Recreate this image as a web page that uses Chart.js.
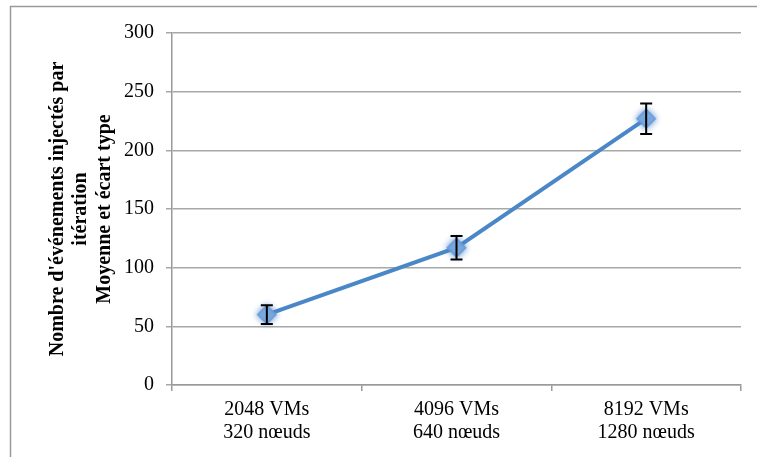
<!DOCTYPE html>
<html><head><meta charset="utf-8">
<script src="https://cdn.jsdelivr.net/npm/chart.js@4"></script>
<style>html,body{margin:0;padding:0;background:#fff;}#wrap{width:757px;height:457px;position:relative;}</style>
</head><body><div id="wrap"><canvas id="c" width="757" height="457"></canvas></div>
<script>
const categories = [["2048 VMs","320 nœuds"],["4096 VMs","640 nœuds"],["8192 VMs","1280 nœuds"]];
const means = [60, 117, 227];
const stdDevs = [8, 10, 13];
const yTicks = [0, 50, 100, 150, 200, 250, 300];
const yTitle = ["Nombre d'événements injectés par", "itération", "Moyenne et écart type"];

const serif = "'Liberation Serif','Times New Roman',serif";

const frame = {
  id: 'frame',
  beforeDraw(chart) {
    const ctx = chart.ctx;
    ctx.save();
    ctx.strokeStyle = '#9a9a9a';
    ctx.lineWidth = 1.5;
    ctx.strokeRect(10.5, 6.5, 900, 600);
    ctx.restore();
  }
};

const errorBars = {
  id: 'errorBars',
  afterDatasetsDraw(chart) {
    const ctx = chart.ctx;
    const x = chart.scales.x, y = chart.scales.y;
    ctx.save();
    ctx.strokeStyle = '#000';
    ctx.lineWidth = 2;
    means.forEach((m, i) => {
      const px = x.getPixelForValue(i);
      const top = y.getPixelForValue(m + stdDevs[i]);
      const bot = y.getPixelForValue(m - stdDevs[i]);
      ctx.beginPath();
      ctx.moveTo(px, top); ctx.lineTo(px, bot);
      ctx.moveTo(px - 6, top); ctx.lineTo(px + 6, top);
      ctx.moveTo(px - 6, bot); ctx.lineTo(px + 6, bot);
      ctx.stroke();
    });
    ctx.restore();
  }
};

const glow = {
  id: 'glow',
  beforeDatasetDraw(chart, args) {
    const ctx = chart.ctx;
    ctx.save();
    if (args.index === 1) {
      ctx.shadowColor = 'rgba(80,135,205,0.9)';
      ctx.shadowBlur = 6;
    }
  },
  afterDatasetDraw(chart) {
    chart.ctx.restore();
  }
};

new Chart(document.getElementById('c'), {
  type: 'line',
  data: {
    labels: categories,
    datasets: [{
      data: means,
      borderColor: '#4a87c7',
      borderWidth: 4,
      pointRadius: 0,
      tension: 0,
      order: 2
    }, {
      data: means,
      showLine: false,
      pointStyle: 'rectRot',
      pointRadius: 9,
      pointBackgroundColor: 'rgba(130,175,225,0.95)',
      pointBorderColor: 'rgba(105,155,215,0.8)',
      pointBorderWidth: 2,
      order: 1
    }]
  },
  options: {
    responsive: false,
    animation: false,
    layout: { padding: { left: 0, top: 33, right: 16, bottom: 0 } },
    plugins: { legend: { display: false }, tooltip: { enabled: false } },
    scales: {
      x: {
        type: 'category',
        offset: true,
        afterFit(s) { s.height = 72; },
        grid: { offset: true, drawOnChartArea: false, drawTicks: true, tickLength: 6, color: '#9a9a9a', lineWidth: 1.5 },
        border: { color: '#9a9a9a', width: 1.5 },
        ticks: { color: '#000', padding: 7, maxRotation: 0, font: { family: serif, size: 20, lineHeight: 1.15 } }
      },
      y: {
        min: 0, max: 300,
        afterFit(s) { s.width = 172; },
        afterBuildTicks(s) { s.ticks = yTicks.map(v => ({ value: v })); },
        grid: { color: '#a8a8a8', lineWidth: 1.5, tickLength: 6 },
        border: { color: '#9a9a9a', width: 1.5 },
        ticks: { color: '#000', padding: 12, font: { family: serif, size: 20 } },
        title: {
          display: true, text: yTitle, color: '#000',
          font: { family: serif, size: 20, weight: 'bold', lineHeight: 1.17 },
          padding: { top: 46, bottom: 0 }
        }
      }
    }
  },
  plugins: [frame, errorBars, glow]
});
</script></body></html>
